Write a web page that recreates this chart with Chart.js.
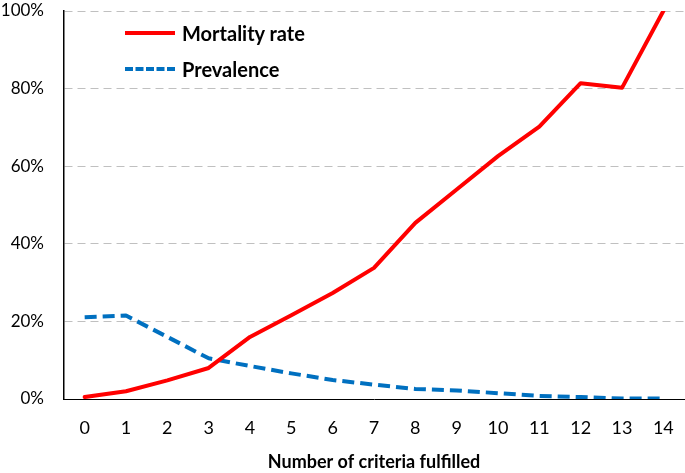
<!DOCTYPE html>
<html>
<head>
  <title>Mortality by criteria</title>
  <script src="https://cdn.jsdelivr.net/npm/chart.js"></script>
  <style>
    body { margin: 0; background: #fff; }
    #wrap { position: relative; width: 685px; height: 473px; }
    #legend {
      position: absolute; left: 125px; top: 15px;
      font-family: "Lato", sans-serif; font-weight: bold; font-size: 20px; color: #000;
    }
    .item { display: flex; align-items: center; height: 36px; }
    .swatch { width: 50px; height: 0; margin-right: 7px; }
  </style>
</head>
<body>
  <div id="wrap">
    <canvas id="chart" width="685" height="473"></canvas>
    <div id="legend">
      <div class="item"><span class="swatch" style="border-top: 4px solid #ff0000;"></span>Mortality rate</div>
      <div class="item"><span class="swatch" style="border-top: 4px dashed #0070c0;"></span>Prevalence</div>
    </div>
  </div>
  <script>
    const criteria = ['0','1','2','3','4','5','6','7','8','9','10','11','12','13','14'];
    const mortalityRate = [0.5, 2, 4.8, 8, 16, 21.6, 27.3, 33.8, 45.4, 54, 62.6, 70.2, 81.4, 80.2, 100];
    const prevalence = [21.1, 21.5, 16, 10.5, 8.5, 6.6, 4.9, 3.7, 2.6, 2.2, 1.5, 0.8, 0.5, 0.1, 0.1];

    const font = 'Lato';

    new Chart(document.getElementById('chart'), {
      type: 'line',
      data: {
        labels: criteria,
        datasets: [
          {
            label: 'Mortality rate',
            data: mortalityRate,
            borderColor: '#ff0000',
            borderWidth: 4,
            pointRadius: 0,
            borderJoinStyle: 'round',
            borderCapStyle: 'round',
            tension: 0
          },
          {
            label: 'Prevalence',
            data: prevalence,
            borderColor: '#0070c0',
            borderWidth: 4,
            borderDash: [12, 6],
            pointRadius: 0,
            borderJoinStyle: 'round',
            tension: 0
          }
        ]
      },
      options: {
        responsive: false,
        animation: false,
        layout: { padding: { top: 0, right: 1, left: 0, bottom: 0 } },
        plugins: {
          legend: { display: false },
          tooltip: { enabled: false }
        },
        scales: {
          x: {
            offset: true,
            grid: { display: false, drawTicks: false },
            border: { color: '#000', width: 1 },
            ticks: { color: '#000', font: { family: font, size: 18 }, padding: 18, maxRotation: 0 },
            title: {
              display: true,
              text: 'Number of criteria fulfilled',
              color: '#000',
              font: { family: font, size: 18, weight: 'bold' },
              padding: { top: 2, bottom: 0 }
            },
            afterFit: s => { s.height = 74; s.paddingRight = 0; s.paddingLeft = 0; }
          },
          y: {
            min: 0,
            max: 100,
            grid: {
              color: '#c0c0c0',
              lineWidth: 1,
              drawTicks: false
            },
            border: { color: '#000', width: 1.5, dash: [8, 5] },
            ticks: {
              stepSize: 20,
              color: '#000',
              padding: 20,
              font: { family: font, size: 17 },
              callback: v => v + '%'
            },
            afterFit: s => { s.width = 64; s.paddingTop = 11; }
          }
        }
      }
    });
  </script>
</body>
</html>
